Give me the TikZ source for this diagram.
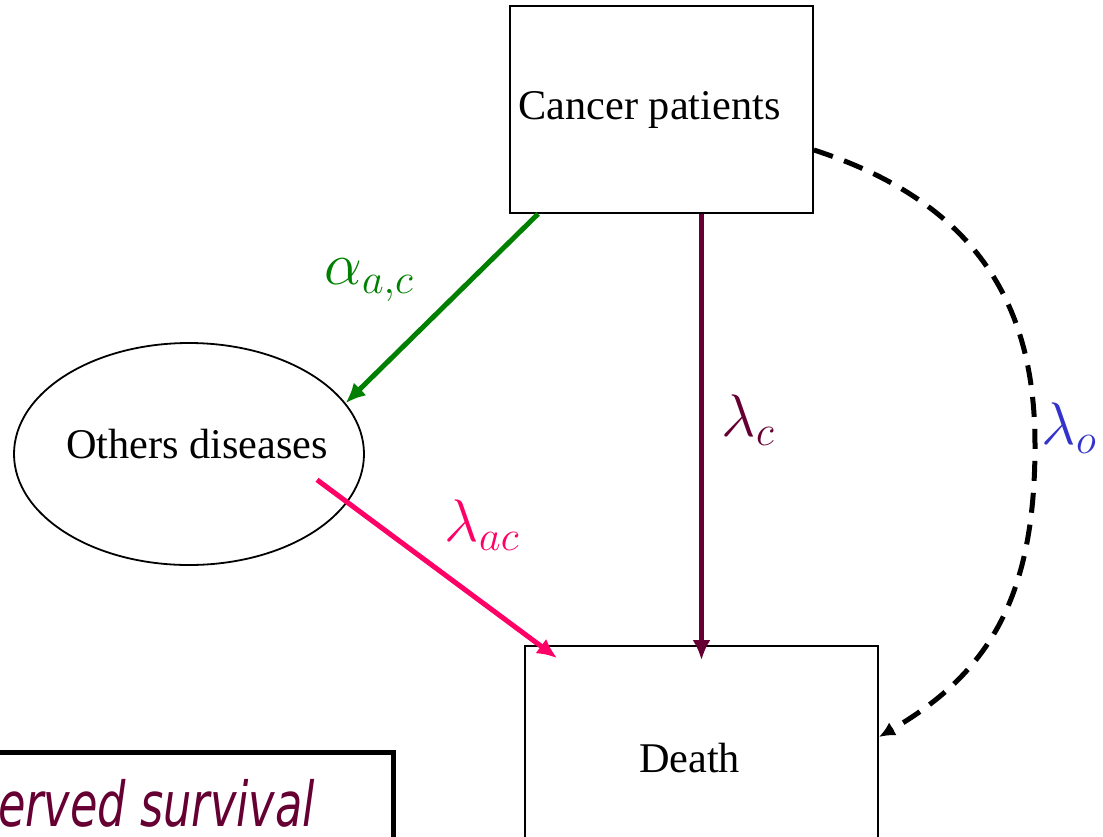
\RequirePackage{fix-cm}
\documentclass[tikz,border=0pt]{standalone}
\usepackage{fontspec}
\setmainfont{Liberation Serif}
\newfontfamily\obsfont[FakeStretch=0.8]{DejaVu Sans Condensed Oblique}
\usepackage{tikz}
\usetikzlibrary{shapes.geometric,arrows.meta,positioning,calc}

\definecolor{grn}{RGB}{0,128,0}
\definecolor{plum}{RGB}{102,0,51}
\definecolor{hotpink}{RGB}{255,0,102}
\definecolor{lblblue}{RGB}{51,51,204}

\begin{document}
\begin{tikzpicture}[x=1pt,y=-1pt,
    statebox/.style={draw, line width=1.8pt, font=\fontsize{42.3}{50}\selectfont},
    boxtext/.style={execute at end node={\hspace*{24pt}}},
    flow/.style={line width=5pt, -{Latex[length=20pt,width=18pt]}},
    rate/.style={font=\fontsize{60}{72}\selectfont}]
    \useasboundingbox (0,0) rectangle (1103,836);
    \clip (0,0) rectangle (1103,836);

    % States
    \node[statebox, boxtext, minimum width=303pt, minimum height=207pt] (cancer) at (661.5,109.5) {Cancer patients};
    \node[statebox, ellipse, inner xsep=-16pt, inner ysep=0pt, text depth=20pt,
          execute at begin node={\hspace*{16pt}},
          minimum width=350pt, minimum height=222pt] (others) at (189,454) {Others diseases};
    \node[statebox, boxtext, minimum width=353pt, minimum height=224pt] (death) at (701.5,758) {Death};

    % Observed survival box (cut by the page edge)
    \node[draw, line width=5pt, outer sep=0pt, anchor=north east, text=plum,
          font=\obsfont\fontsize{62}{74}\selectfont, inner xsep=78pt, minimum height=102pt]
          (obs) at (393,752) {Observed survival};

    % Transitions
    \draw[flow, grn] ([xshift=29pt]cancer.south west) -- (others.18);
    \draw[flow, plum] (cancer.south -| death.north) -- ([yshift=-15pt]death.north);
    \draw[flow, hotpink, shorten <=-38pt] (others.-17) -- ([xshift=33pt,yshift=-13pt]death.north west);

    % Other causes, dashed detour
    \coordinate (bend) at (1035,445);
    \draw[line width=5pt, dash pattern=on 20pt off 12pt, -{Latex[length=16pt,width=15pt]}]
        ([yshift=-40.5pt]cancer.east) .. controls (990,207) and (1035,320) .. (bend)
        .. controls (1035,595) and (991,672) .. ([yshift=21pt]death.east);

    % Rates
    \node[rate, text=grn] (alphaAC) at (369,280) {$\alpha_{a,c}$};
    \node[rate, text=plum] (lamC) at (748,420) {$\lambda_c$};
    \node[rate, text=hotpink] (lamAC) at (482,525) {$\lambda_{ac}$};
    \node[rate, text=lblblue] (lamO) at (1069,428) {$\lambda_o$};
\end{tikzpicture}
\end{document}
